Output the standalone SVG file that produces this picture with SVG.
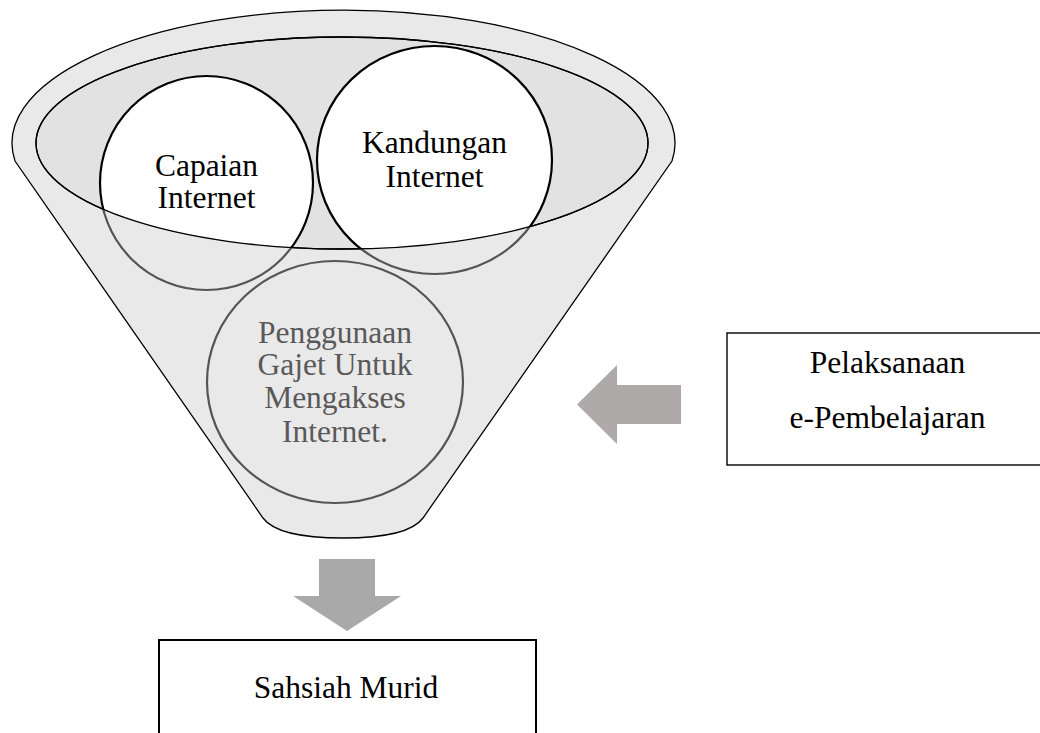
<svg xmlns="http://www.w3.org/2000/svg" width="1040" height="733" viewBox="0 0 1040 733">
<style>
.t{font-family:"Liberation Serif","Times New Roman",serif;font-size:31.5px;text-anchor:middle;fill:#000}
.tg{fill:#595959}
.box{fill:#fff;stroke:#000}
.up{fill:#fff;stroke:#000;stroke-width:2.2}
.lo{fill:#e9e9e9;stroke:#555;stroke-width:2.2}
</style>
<defs>
<clipPath id="inClip"><ellipse cx="342" cy="143" rx="306" ry="106"/></clipPath>
<clipPath id="outClip"><path clip-rule="evenodd" d="M0,0H1040V733H0Z M36,143 A306,106 0 1 0 648,143 A306,106 0 1 0 36,143 Z"/></clipPath>
</defs>
<rect width="1040" height="733" fill="#fff"/>
<g id="funnel">
<path d="M15,161 A331.5,133 0 1 1 672,161 L423,518 C412,533 380,538 343,538 C306,538 274,533 263,518 Z" fill="#e9e9e9" stroke="#000" stroke-width="1.3"/>
<ellipse cx="342" cy="143" rx="306" ry="106" fill="#e2e2e2" stroke="#000" stroke-width="1.3"/>
</g>
<g id="capaian">
<ellipse class="up" cx="206.5" cy="183" rx="106.5" ry="107" clip-path="url(#inClip)"/>
<ellipse class="lo" cx="206.5" cy="183" rx="106.5" ry="107" clip-path="url(#outClip)"/>
<text class="t" x="206.5" y="176">Capaian</text>
<text class="t" x="206.5" y="208">Internet</text>
</g>
<g id="kandungan">
<ellipse class="up" cx="434.5" cy="160" rx="117.5" ry="114" clip-path="url(#inClip)"/>
<ellipse class="lo" cx="434.5" cy="160" rx="117.5" ry="114" clip-path="url(#outClip)"/>
<text class="t" x="434.5" y="153">Kandungan</text>
<text class="t" x="434.5" y="187">Internet</text>
</g>
<ellipse cx="342" cy="143" rx="306" ry="106" fill="none" stroke="#000" stroke-width="1.3"/>
<g id="penggunaan">
<ellipse class="lo" cx="335" cy="382" rx="128" ry="121"/>
<text class="t tg" x="335" y="343">Penggunaan</text>
<text class="t tg" x="335" y="375">Gajet Untuk</text>
<text class="t tg" x="335" y="408">Mengakses</text>
<text class="t tg" x="335" y="442">Internet.</text>
</g>
<g id="pelaksanaan">
<rect class="box" x="727" y="333" width="330" height="132" stroke-width="1.4"/>
<text class="t" x="887.5" y="373">Pelaksanaan</text>
<text class="t" x="887.5" y="428">e-Pembelajaran</text>
</g>
<g id="sahsiah">
<rect class="box" x="159" y="640" width="377" height="120" stroke-width="2"/>
<text class="t" x="346" y="698">Sahsiah Murid</text>
</g>
<g id="connectors">
<polygon points="681,385 617,385 617,365 577,404.5 617,444 617,424 681,424" fill="#aeaaaa"/>
<polygon points="319,559 375,559 375,596 401,596 347,631 293,596 319,596" fill="#a9a9a9"/>
</g>
</svg>
